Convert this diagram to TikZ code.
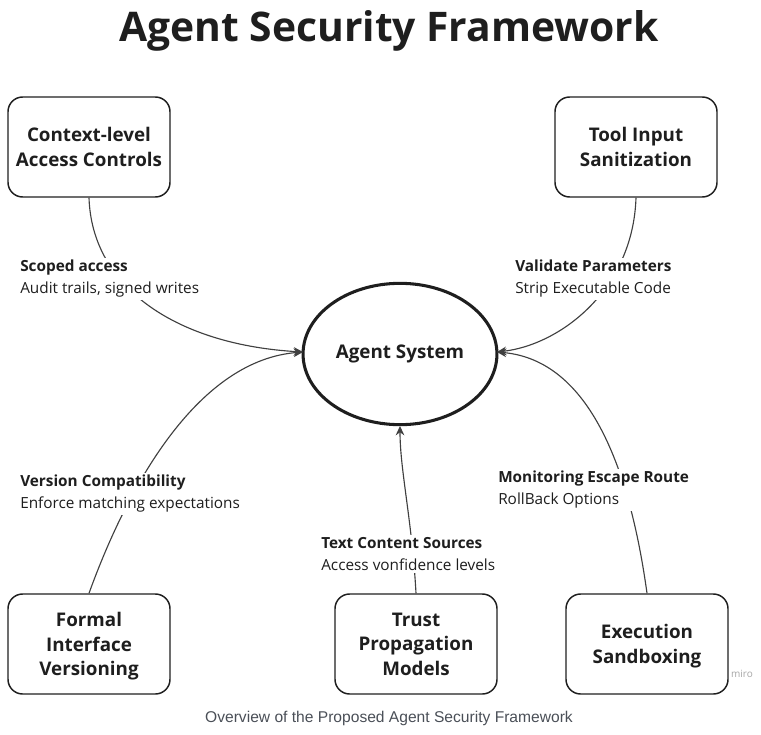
\documentclass[tikz,border=0pt]{standalone}
\usepackage{fontspec}
\setmainfont{Open Sans}
\newfontfamily\capfont{Liberation Sans}
\usetikzlibrary{arrows.meta,shapes.geometric}
\definecolor{ink}{HTML}{1E1E1E}
\definecolor{capgray}{HTML}{4A4F57}
\tikzset{
  box/.style={draw=ink, line width=1.1pt, rounded corners=11pt, minimum width=121.5pt, minimum height=75pt, align=center, font=\bfseries\fontsize{14.1}{18.5}\selectfont, text=ink, inner sep=0pt},
  conn/.style={draw=ink!85, line width=0.85pt, -{Stealth[length=7pt,width=6.5pt]}},
  lbl/.style={fill=white, align=left, anchor=north west, inner sep=1.5pt, font=\fontsize{11.5}{16.5}\selectfont, text=ink},
}
\begin{document}
\begin{tikzpicture}[x=0.75pt,y=-0.75pt]
\useasboundingbox (0,0) rectangle (761,735);
\node[font=\bfseries\fontsize{30.6}{34}\selectfont, text=ink] (title) at (389,31) {Agent Security Framework};
\node[ellipse, draw=ink, line width=2.3pt, minimum width=144pt, minimum height=106pt, font=\bfseries\fontsize{14.1}{16}\selectfont, text=ink] (agent) at (400,354) {Agent System};
\coordinate (aL) at (303,352);
\coordinate (aR) at (497,352);
\coordinate (aB) at (400,426);
\node[box] (ctx) at (89,147) {Context-level\\Access Controls};
\node[box] (tool) at (636,147) {Tool Input\\Sanitization};
\node[box, text depth=0pt] (formal) at (89,644) {Formal\\Interface\\Versioning};
\node[box, text depth=0pt] (trust) at (416,644) {Trust\\Propagation\\Models};
\node[box, text depth=0pt] (exec) at (647,644) {Execution\\Sandboxing};
% connectors
\draw[conn] (ctx.south) .. controls (92,290) and (180,345) .. (aL);
\draw[conn] (tool.south) .. controls (633,290) and (560,345) .. (aR);
\draw[conn] (formal.north) .. controls (130,480) and (200,360) .. (aL);
\draw[conn] (exec.north) .. controls (630,470) and (590,360) .. (aR);
\draw[conn] (trust.north) .. controls (412,520) and (400,470) .. (aB);
% labels
\node[lbl] (l1) at (18,258) {\textbf{Scoped access}\\Audit trails, signed writes};
\node[lbl] (l2) at (513,258) {\textbf{Validate Parameters}\\Strip Executable Code};
\node[lbl] (l3) at (18,473) {\textbf{Version Compatibility}\\Enforce matching expectations};
\node[lbl] (l4) at (319,535) {\textbf{Text Content Sources}\\Access vonfidence levels};
\node[lbl] (l5) at (496,469) {\textbf{Monitoring Escape Route}\\RollBack Options};
\node[font=\fontsize{7.5}{9}\selectfont, text=black!35] (miro) at (742,674) {miro};
\node[font=\capfont\fontsize{11.7}{13}\selectfont, text=capgray] (cap) at (389,718) {Overview of the Proposed Agent Security Framework};
\end{tikzpicture}
\end{document}
